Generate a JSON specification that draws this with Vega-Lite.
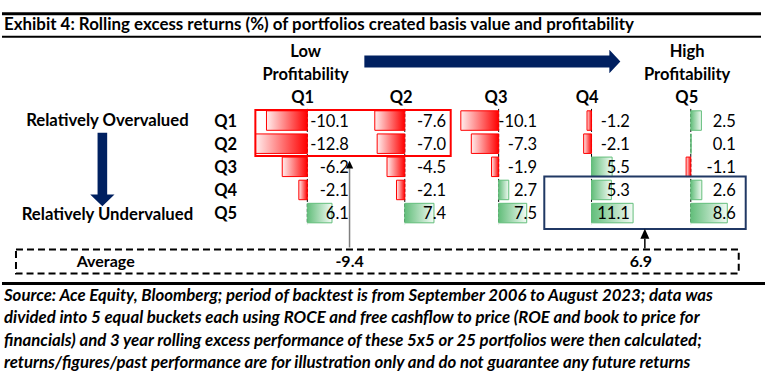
{
  "$schema": "https://vega.github.io/schema/vega-lite/v6.json",
  "width": 767,
  "height": 381,
  "autosize": {"type": "fit", "contains": "padding"},
  "padding": 0,
  "background": "white",
  "config": {
    "view": {"stroke": null},
    "font": "Lato",
    "text": {"font": "Lato", "color": "black"},
    "locale": {"number": {"decimal": ".", "thousands": ",", "grouping": [3], "currency": ["$", ""], "minus": "-"}}
  },
  "data": {
    "values": [
      {"value_quintile": "Q1", "value_rank": 1, "profitability_quintile": "Q1", "excess_return": -10.1},
      {"value_quintile": "Q1", "value_rank": 1, "profitability_quintile": "Q2", "excess_return": -7.6},
      {"value_quintile": "Q1", "value_rank": 1, "profitability_quintile": "Q3", "excess_return": -10.1},
      {"value_quintile": "Q1", "value_rank": 1, "profitability_quintile": "Q4", "excess_return": -1.2},
      {"value_quintile": "Q1", "value_rank": 1, "profitability_quintile": "Q5", "excess_return": 2.5},
      {"value_quintile": "Q2", "value_rank": 2, "profitability_quintile": "Q1", "excess_return": -12.8},
      {"value_quintile": "Q2", "value_rank": 2, "profitability_quintile": "Q2", "excess_return": -7.0},
      {"value_quintile": "Q2", "value_rank": 2, "profitability_quintile": "Q3", "excess_return": -7.3},
      {"value_quintile": "Q2", "value_rank": 2, "profitability_quintile": "Q4", "excess_return": -2.1},
      {"value_quintile": "Q2", "value_rank": 2, "profitability_quintile": "Q5", "excess_return": 0.1},
      {"value_quintile": "Q3", "value_rank": 3, "profitability_quintile": "Q1", "excess_return": -6.2},
      {"value_quintile": "Q3", "value_rank": 3, "profitability_quintile": "Q2", "excess_return": -4.5},
      {"value_quintile": "Q3", "value_rank": 3, "profitability_quintile": "Q3", "excess_return": -1.9},
      {"value_quintile": "Q3", "value_rank": 3, "profitability_quintile": "Q4", "excess_return": 5.5},
      {"value_quintile": "Q3", "value_rank": 3, "profitability_quintile": "Q5", "excess_return": -1.1},
      {"value_quintile": "Q4", "value_rank": 4, "profitability_quintile": "Q1", "excess_return": -2.1},
      {"value_quintile": "Q4", "value_rank": 4, "profitability_quintile": "Q2", "excess_return": -2.1},
      {"value_quintile": "Q4", "value_rank": 4, "profitability_quintile": "Q3", "excess_return": 2.7},
      {"value_quintile": "Q4", "value_rank": 4, "profitability_quintile": "Q4", "excess_return": 5.3},
      {"value_quintile": "Q4", "value_rank": 4, "profitability_quintile": "Q5", "excess_return": 2.6},
      {"value_quintile": "Q5", "value_rank": 5, "profitability_quintile": "Q1", "excess_return": 6.1},
      {"value_quintile": "Q5", "value_rank": 5, "profitability_quintile": "Q2", "excess_return": 7.4},
      {"value_quintile": "Q5", "value_rank": 5, "profitability_quintile": "Q3", "excess_return": 7.5},
      {"value_quintile": "Q5", "value_rank": 5, "profitability_quintile": "Q4", "excess_return": 11.1},
      {"value_quintile": "Q5", "value_rank": 5, "profitability_quintile": "Q5", "excess_return": 8.6}
    ]
  },
  "resolve": {"scale": {"x": "independent"}},
  "layer": [
    {
      "transform": [{"filter": "datum.profitability_quintile == 'Q1'"}],
      "layer": [
        {"transform": [{"filter": "datum.value_rank == 1"}],
         "mark": {"type": "rule", "color": "black", "strokeWidth": 1, "strokeDash": [3, 2]},
         "encoding": {"x": {"datum": 0, "type": "quantitative", "scale": {"domain": [-75.98, 113.40], "nice": false, "zero": false}, "axis": null},
                      "y": {"datum": 0.44, "type": "quantitative", "scale": {"domain": [-4.053, 11.989], "reverse": true, "nice": false, "zero": false}, "axis": null},
                      "y2": {"datum": 5.42}}},
        {"transform": [{"filter": "datum.excess_return < 0"}],
         "mark": {"type": "bar", "orient": "horizontal", "height": 19.5, "yOffset": -1.3, "stroke": "#FF0000", "strokeWidth": 1,
                  "fill": {"gradient": "linear", "x1": 0, "y1": 0, "x2": 1, "y2": 0, "stops": [{"offset": 0, "color": "#FFEEEE"}, {"offset": 1, "color": "#FF0000"}]}},
         "encoding": {"x": {"field": "excess_return", "type": "quantitative", "scale": {"domain": [-75.98, 113.40], "nice": false, "zero": false}, "axis": null},
                      "x2": {"datum": 0},
                      "y": {"field": "value_rank", "type": "quantitative", "scale": {"domain": [-4.053, 11.989], "reverse": true, "nice": false, "zero": false}, "axis": null}}},
        {"transform": [{"filter": "datum.excess_return >= 0"}],
         "mark": {"type": "bar", "orient": "horizontal", "height": 19.5, "yOffset": -1.3, "stroke": "#63BE7B", "strokeWidth": 1,
                  "fill": {"gradient": "linear", "x1": 0, "y1": 0, "x2": 1, "y2": 0, "stops": [{"offset": 0, "color": "#63BE7B"}, {"offset": 1, "color": "#F2FAF4"}]}},
         "encoding": {"x": {"field": "excess_return", "type": "quantitative", "scale": {"domain": [-75.98, 113.40], "nice": false, "zero": false}, "axis": null},
                      "x2": {"datum": 0},
                      "y": {"field": "value_rank", "type": "quantitative", "scale": {"domain": [-4.053, 11.989], "reverse": true, "nice": false, "zero": false}, "axis": null}}},
        {"mark": {"type": "text", "align": "right", "baseline": "middle", "fontSize": 16.5},
         "encoding": {"x": {"datum": 10.27, "type": "quantitative", "scale": {"domain": [-75.98, 113.40], "nice": false, "zero": false}, "axis": null},
                      "y": {"field": "value_rank", "type": "quantitative", "scale": {"domain": [-4.053, 11.989], "reverse": true, "nice": false, "zero": false}, "axis": null},
                      "text": {"field": "excess_return", "type": "quantitative", "format": ".1f"}}},
        {"transform": [{"filter": "datum.value_rank == 1"}],
         "mark": {"type": "text", "align": "center", "baseline": "middle", "fontSize": 16.5, "fontWeight": "bold"},
         "encoding": {"x": {"datum": -1.16, "type": "quantitative", "scale": {"domain": [-75.98, 113.40], "nice": false, "zero": false}, "axis": null},
                      "y": {"datum": -0.0232, "type": "quantitative", "scale": {"domain": [-4.053, 11.989], "reverse": true, "nice": false, "zero": false}, "axis": null},
                      "text": {"field": "profitability_quintile"}}}
      ]
    },
    {
      "transform": [{"filter": "datum.profitability_quintile == 'Q2'"}],
      "layer": [
        {"transform": [{"filter": "datum.value_rank == 1"}],
         "mark": {"type": "rule", "color": "black", "strokeWidth": 1, "strokeDash": [3, 2]},
         "encoding": {"x": {"datum": 0, "type": "quantitative", "scale": {"domain": [-102.61, 91.57], "nice": false, "zero": false}, "axis": null},
                      "y": {"datum": 0.44, "type": "quantitative", "scale": {"domain": [-4.053, 11.989], "reverse": true, "nice": false, "zero": false}, "axis": null},
                      "y2": {"datum": 5.42}}},
        {"transform": [{"filter": "datum.excess_return < 0"}],
         "mark": {"type": "bar", "orient": "horizontal", "height": 19.5, "yOffset": -1.3, "stroke": "#FF0000", "strokeWidth": 1,
                  "fill": {"gradient": "linear", "x1": 0, "y1": 0, "x2": 1, "y2": 0, "stops": [{"offset": 0, "color": "#FFEEEE"}, {"offset": 1, "color": "#FF0000"}]}},
         "encoding": {"x": {"field": "excess_return", "type": "quantitative", "scale": {"domain": [-102.61, 91.57], "nice": false, "zero": false}, "axis": null},
                      "x2": {"datum": 0},
                      "y": {"field": "value_rank", "type": "quantitative", "scale": {"domain": [-4.053, 11.989], "reverse": true, "nice": false, "zero": false}, "axis": null}}},
        {"transform": [{"filter": "datum.excess_return >= 0"}],
         "mark": {"type": "bar", "orient": "horizontal", "height": 19.5, "yOffset": -1.3, "stroke": "#63BE7B", "strokeWidth": 1,
                  "fill": {"gradient": "linear", "x1": 0, "y1": 0, "x2": 1, "y2": 0, "stops": [{"offset": 0, "color": "#63BE7B"}, {"offset": 1, "color": "#F2FAF4"}]}},
         "encoding": {"x": {"field": "excess_return", "type": "quantitative", "scale": {"domain": [-102.61, 91.57], "nice": false, "zero": false}, "axis": null},
                      "x2": {"datum": 0},
                      "y": {"field": "value_rank", "type": "quantitative", "scale": {"domain": [-4.053, 11.989], "reverse": true, "nice": false, "zero": false}, "axis": null}}},
        {"mark": {"type": "text", "align": "right", "baseline": "middle", "fontSize": 16.5},
         "encoding": {"x": {"datum": 10.48, "type": "quantitative", "scale": {"domain": [-102.61, 91.57], "nice": false, "zero": false}, "axis": null},
                      "y": {"field": "value_rank", "type": "quantitative", "scale": {"domain": [-4.053, 11.989], "reverse": true, "nice": false, "zero": false}, "axis": null},
                      "text": {"field": "excess_return", "type": "quantitative", "format": ".1f"}}},
        {"transform": [{"filter": "datum.value_rank == 1"}],
         "mark": {"type": "text", "align": "center", "baseline": "middle", "fontSize": 16.5, "fontWeight": "bold"},
         "encoding": {"x": {"datum": -0.91, "type": "quantitative", "scale": {"domain": [-102.61, 91.57], "nice": false, "zero": false}, "axis": null},
                      "y": {"datum": -0.0232, "type": "quantitative", "scale": {"domain": [-4.053, 11.989], "reverse": true, "nice": false, "zero": false}, "axis": null},
                      "text": {"field": "profitability_quintile"}}}
      ]
    },
    {
      "transform": [{"filter": "datum.profitability_quintile == 'Q3'"}],
      "layer": [
        {"transform": [{"filter": "datum.value_rank == 1"}],
         "mark": {"type": "rule", "color": "black", "strokeWidth": 1, "strokeDash": [3, 2]},
         "encoding": {"x": {"datum": 0, "type": "quantitative", "scale": {"domain": [-133.15, 71.39], "nice": false, "zero": false}, "axis": null},
                      "y": {"datum": 0.44, "type": "quantitative", "scale": {"domain": [-4.053, 11.989], "reverse": true, "nice": false, "zero": false}, "axis": null},
                      "y2": {"datum": 5.42}}},
        {"transform": [{"filter": "datum.excess_return < 0"}],
         "mark": {"type": "bar", "orient": "horizontal", "height": 19.5, "yOffset": -1.3, "stroke": "#FF0000", "strokeWidth": 1,
                  "fill": {"gradient": "linear", "x1": 0, "y1": 0, "x2": 1, "y2": 0, "stops": [{"offset": 0, "color": "#FFEEEE"}, {"offset": 1, "color": "#FF0000"}]}},
         "encoding": {"x": {"field": "excess_return", "type": "quantitative", "scale": {"domain": [-133.15, 71.39], "nice": false, "zero": false}, "axis": null},
                      "x2": {"datum": 0},
                      "y": {"field": "value_rank", "type": "quantitative", "scale": {"domain": [-4.053, 11.989], "reverse": true, "nice": false, "zero": false}, "axis": null}}},
        {"transform": [{"filter": "datum.excess_return >= 0"}],
         "mark": {"type": "bar", "orient": "horizontal", "height": 19.5, "yOffset": -1.3, "stroke": "#63BE7B", "strokeWidth": 1,
                  "fill": {"gradient": "linear", "x1": 0, "y1": 0, "x2": 1, "y2": 0, "stops": [{"offset": 0, "color": "#63BE7B"}, {"offset": 1, "color": "#F2FAF4"}]}},
         "encoding": {"x": {"field": "excess_return", "type": "quantitative", "scale": {"domain": [-133.15, 71.39], "nice": false, "zero": false}, "axis": null},
                      "x2": {"datum": 0},
                      "y": {"field": "value_rank", "type": "quantitative", "scale": {"domain": [-4.053, 11.989], "reverse": true, "nice": false, "zero": false}, "axis": null}}},
        {"mark": {"type": "text", "align": "right", "baseline": "middle", "fontSize": 16.5},
         "encoding": {"x": {"datum": 10.24, "type": "quantitative", "scale": {"domain": [-133.15, 71.39], "nice": false, "zero": false}, "axis": null},
                      "y": {"field": "value_rank", "type": "quantitative", "scale": {"domain": [-4.053, 11.989], "reverse": true, "nice": false, "zero": false}, "axis": null},
                      "text": {"field": "excess_return", "type": "quantitative", "format": ".1f"}}},
        {"transform": [{"filter": "datum.value_rank == 1"}],
         "mark": {"type": "text", "align": "center", "baseline": "middle", "fontSize": 16.5, "fontWeight": "bold"},
         "encoding": {"x": {"datum": -0.69, "type": "quantitative", "scale": {"domain": [-133.15, 71.39], "nice": false, "zero": false}, "axis": null},
                      "y": {"datum": -0.0232, "type": "quantitative", "scale": {"domain": [-4.053, 11.989], "reverse": true, "nice": false, "zero": false}, "axis": null},
                      "text": {"field": "profitability_quintile"}}}
      ]
    },
    {
      "transform": [{"filter": "datum.profitability_quintile == 'Q4'"}],
      "layer": [
        {"transform": [{"filter": "datum.value_rank == 1"}],
         "mark": {"type": "rule", "color": "black", "strokeWidth": 1, "strokeDash": [3, 2]},
         "encoding": {"x": {"datum": 0, "type": "quantitative", "scale": {"domain": [-157.95, 46.59], "nice": false, "zero": false}, "axis": null},
                      "y": {"datum": 0.44, "type": "quantitative", "scale": {"domain": [-4.053, 11.989], "reverse": true, "nice": false, "zero": false}, "axis": null},
                      "y2": {"datum": 5.42}}},
        {"transform": [{"filter": "datum.excess_return < 0"}],
         "mark": {"type": "bar", "orient": "horizontal", "height": 19.5, "yOffset": -1.3, "stroke": "#FF0000", "strokeWidth": 1,
                  "fill": {"gradient": "linear", "x1": 0, "y1": 0, "x2": 1, "y2": 0, "stops": [{"offset": 0, "color": "#FFEEEE"}, {"offset": 1, "color": "#FF0000"}]}},
         "encoding": {"x": {"field": "excess_return", "type": "quantitative", "scale": {"domain": [-157.95, 46.59], "nice": false, "zero": false}, "axis": null},
                      "x2": {"datum": 0},
                      "y": {"field": "value_rank", "type": "quantitative", "scale": {"domain": [-4.053, 11.989], "reverse": true, "nice": false, "zero": false}, "axis": null}}},
        {"transform": [{"filter": "datum.excess_return >= 0"}],
         "mark": {"type": "bar", "orient": "horizontal", "height": 19.5, "yOffset": -1.3, "stroke": "#63BE7B", "strokeWidth": 1,
                  "fill": {"gradient": "linear", "x1": 0, "y1": 0, "x2": 1, "y2": 0, "stops": [{"offset": 0, "color": "#63BE7B"}, {"offset": 1, "color": "#F2FAF4"}]}},
         "encoding": {"x": {"field": "excess_return", "type": "quantitative", "scale": {"domain": [-157.95, 46.59], "nice": false, "zero": false}, "axis": null},
                      "x2": {"datum": 0},
                      "y": {"field": "value_rank", "type": "quantitative", "scale": {"domain": [-4.053, 11.989], "reverse": true, "nice": false, "zero": false}, "axis": null}}},
        {"mark": {"type": "text", "align": "right", "baseline": "middle", "fontSize": 16.5},
         "encoding": {"x": {"datum": 10.24, "type": "quantitative", "scale": {"domain": [-157.95, 46.59], "nice": false, "zero": false}, "axis": null},
                      "y": {"field": "value_rank", "type": "quantitative", "scale": {"domain": [-4.053, 11.989], "reverse": true, "nice": false, "zero": false}, "axis": null},
                      "text": {"field": "excess_return", "type": "quantitative", "format": ".1f"}}},
        {"transform": [{"filter": "datum.value_rank == 1"}],
         "mark": {"type": "text", "align": "center", "baseline": "middle", "fontSize": 16.5, "fontWeight": "bold"},
         "encoding": {"x": {"datum": -1.15, "type": "quantitative", "scale": {"domain": [-157.95, 46.59], "nice": false, "zero": false}, "axis": null},
                      "y": {"datum": -0.0232, "type": "quantitative", "scale": {"domain": [-4.053, 11.989], "reverse": true, "nice": false, "zero": false}, "axis": null},
                      "text": {"field": "profitability_quintile"}}}
      ]
    },
    {
      "transform": [{"filter": "datum.profitability_quintile == 'Q5'"}],
      "layer": [
        {"transform": [{"filter": "datum.value_rank == 1"}],
         "mark": {"type": "rule", "color": "black", "strokeWidth": 1, "strokeDash": [3, 2]},
         "encoding": {"x": {"datum": 0, "type": "quantitative", "scale": {"domain": [-162.75, 17.72], "nice": false, "zero": false}, "axis": null},
                      "y": {"datum": 0.44, "type": "quantitative", "scale": {"domain": [-4.053, 11.989], "reverse": true, "nice": false, "zero": false}, "axis": null},
                      "y2": {"datum": 5.42}}},
        {"transform": [{"filter": "datum.excess_return < 0"}],
         "mark": {"type": "bar", "orient": "horizontal", "height": 19.5, "yOffset": -1.3, "stroke": "#FF0000", "strokeWidth": 1,
                  "fill": {"gradient": "linear", "x1": 0, "y1": 0, "x2": 1, "y2": 0, "stops": [{"offset": 0, "color": "#FFEEEE"}, {"offset": 1, "color": "#FF0000"}]}},
         "encoding": {"x": {"field": "excess_return", "type": "quantitative", "scale": {"domain": [-162.75, 17.72], "nice": false, "zero": false}, "axis": null},
                      "x2": {"datum": 0},
                      "y": {"field": "value_rank", "type": "quantitative", "scale": {"domain": [-4.053, 11.989], "reverse": true, "nice": false, "zero": false}, "axis": null}}},
        {"transform": [{"filter": "datum.excess_return >= 0"}],
         "mark": {"type": "bar", "orient": "horizontal", "height": 19.5, "yOffset": -1.3, "stroke": "#63BE7B", "strokeWidth": 1,
                  "fill": {"gradient": "linear", "x1": 0, "y1": 0, "x2": 1, "y2": 0, "stops": [{"offset": 0, "color": "#63BE7B"}, {"offset": 1, "color": "#F2FAF4"}]}},
         "encoding": {"x": {"field": "excess_return", "type": "quantitative", "scale": {"domain": [-162.75, 17.72], "nice": false, "zero": false}, "axis": null},
                      "x2": {"datum": 0},
                      "y": {"field": "value_rank", "type": "quantitative", "scale": {"domain": [-4.053, 11.989], "reverse": true, "nice": false, "zero": false}, "axis": null}}},
        {"mark": {"type": "text", "align": "right", "baseline": "middle", "fontSize": 16.5},
         "encoding": {"x": {"datum": 10.59, "type": "quantitative", "scale": {"domain": [-162.75, 17.72], "nice": false, "zero": false}, "axis": null},
                      "y": {"field": "value_rank", "type": "quantitative", "scale": {"domain": [-4.053, 11.989], "reverse": true, "nice": false, "zero": false}, "axis": null},
                      "text": {"field": "excess_return", "type": "quantitative", "format": ".1f"}}},
        {"transform": [{"filter": "datum.value_rank == 1"}],
         "mark": {"type": "text", "align": "center", "baseline": "middle", "fontSize": 16.5, "fontWeight": "bold"},
         "encoding": {"x": {"datum": -0.94, "type": "quantitative", "scale": {"domain": [-162.75, 17.72], "nice": false, "zero": false}, "axis": null},
                      "y": {"datum": -0.0232, "type": "quantitative", "scale": {"domain": [-4.053, 11.989], "reverse": true, "nice": false, "zero": false}, "axis": null},
                      "text": {"field": "profitability_quintile"}}}
      ]
    },
    {
      "layer": [
        {"transform": [{"filter": "datum.profitability_quintile == 'Q1'"}],
         "mark": {"type": "text", "align": "center", "baseline": "middle", "fontSize": 16.5, "fontWeight": "bold"},
         "encoding": {"x": {"datum": 0.149, "type": "quantitative", "scale": {"domain": [-2.2052, 5.7844], "nice": false, "zero": false}, "axis": null},
                      "y": {"field": "value_rank", "type": "quantitative", "scale": {"domain": [-4.053, 11.989], "reverse": true, "nice": false, "zero": false}, "axis": null},
                      "text": {"field": "value_quintile"}}},
        {"transform": [{"filter": "datum.value_rank <= 2 && (datum.profitability_quintile == 'Q1' || datum.profitability_quintile == 'Q2')"},
                       {"aggregate": [{"op": "mean", "field": "excess_return", "as": "box_average"}]}],
         "mark": {"type": "text", "align": "center", "baseline": "middle", "fontSize": 16, "fontWeight": "bold"},
         "encoding": {"x": {"datum": 1.4406, "type": "quantitative", "scale": {"domain": [-2.2052, 5.7844], "nice": false, "zero": false}, "axis": null},
                      "y": {"datum": 7.0758, "type": "quantitative", "scale": {"domain": [-4.053, 11.989], "reverse": true, "nice": false, "zero": false}, "axis": null},
                      "text": {"field": "box_average", "type": "quantitative", "format": ".1f"}}},
        {"transform": [{"filter": "datum.value_rank >= 4 && (datum.profitability_quintile == 'Q4' || datum.profitability_quintile == 'Q5')"},
                       {"aggregate": [{"op": "mean", "field": "excess_return", "as": "box_average"}]}],
         "mark": {"type": "text", "align": "center", "baseline": "middle", "fontSize": 16, "fontWeight": "bold"},
         "encoding": {"x": {"datum": 4.4792, "type": "quantitative", "scale": {"domain": [-2.2052, 5.7844], "nice": false, "zero": false}, "axis": null},
                      "y": {"datum": 7.0758, "type": "quantitative", "scale": {"domain": [-4.053, 11.989], "reverse": true, "nice": false, "zero": false}, "axis": null},
                      "text": {"field": "box_average", "type": "quantitative", "format": ".1f"}}}
      ]
    },
    {
      "data": {"values": [{}]},
      "layer": [
        {"mark": {"type": "rule", "color": "black", "strokeWidth": 3},
         "encoding": {"x": {"datum": -2.1844, "type": "quantitative", "scale": {"domain": [-2.2052, 5.7844], "nice": false, "zero": false}, "axis": null},
                      "x2": {"datum": 5.7323},
                      "y": {"datum": -3.6737, "type": "quantitative", "scale": {"domain": [-4.053, 11.989], "reverse": true, "nice": false, "zero": false}, "axis": null}}},
        {"mark": {"type": "rule", "color": "black", "strokeWidth": 2},
         "encoding": {"x": {"datum": -2.1844, "type": "quantitative", "scale": {"domain": [-2.2052, 5.7844], "nice": false, "zero": false}, "axis": null},
                      "x2": {"datum": 5.7323},
                      "y": {"datum": -2.6842, "type": "quantitative", "scale": {"domain": [-4.053, 11.989], "reverse": true, "nice": false, "zero": false}, "axis": null}}},
        {"mark": {"type": "rule", "color": "black", "strokeWidth": 3},
         "encoding": {"x": {"datum": -2.1844, "type": "quantitative", "scale": {"domain": [-2.2052, 5.7844], "nice": false, "zero": false}, "axis": null},
                      "x2": {"datum": 5.774},
                      "y": {"datum": 7.9895, "type": "quantitative", "scale": {"domain": [-4.053, 11.989], "reverse": true, "nice": false, "zero": false}, "axis": null}}},
        {"mark": {"type": "text", "text": "Exhibit 4: Rolling excess returns (%) of portfolios created basis value and profitability", "align": "left", "baseline": "middle", "fontSize": 16.9, "fontWeight": "bold"},
         "encoding": {"x": {"datum": -2.1635, "type": "quantitative", "scale": {"domain": [-2.2052, 5.7844], "nice": false, "zero": false}, "axis": null},
                      "y": {"datum": -3.1684, "type": "quantitative", "scale": {"domain": [-4.053, 11.989], "reverse": true, "nice": false, "zero": false}, "axis": null}}},
        {"mark": {"type": "text", "text": ["Low", "Profitability"], "lineHeight": 23.4, "align": "center", "baseline": "middle", "fontSize": 16.5, "fontWeight": "bold"},
         "encoding": {"x": {"datum": 0.9823, "type": "quantitative", "scale": {"domain": [-2.2052, 5.7844], "nice": false, "zero": false}, "axis": null},
                      "y": {"datum": -2.0232, "type": "quantitative", "scale": {"domain": [-4.053, 11.989], "reverse": true, "nice": false, "zero": false}, "axis": null}}},
        {"mark": {"type": "text", "text": ["High", "Profitability"], "lineHeight": 23.4, "align": "center", "baseline": "middle", "fontSize": 16.5, "fontWeight": "bold"},
         "encoding": {"x": {"datum": 4.9615, "type": "quantitative", "scale": {"domain": [-2.2052, 5.7844], "nice": false, "zero": false}, "axis": null},
                      "y": {"datum": -2.0232, "type": "quantitative", "scale": {"domain": [-4.053, 11.989], "reverse": true, "nice": false, "zero": false}, "axis": null}}},
        {"mark": {"type": "point", "filled": true, "opacity": 1, "color": "#002060", "strokeWidth": 0, "size": 65536,
                  "shape": "M-1,-0.047L0.914,-0.047L0.914,-0.091L1,0L0.914,0.091L0.914,0.047L-1,0.047Z"},
         "encoding": {"x": {"datum": 2.9302, "type": "quantitative", "scale": {"domain": [-2.2052, 5.7844], "nice": false, "zero": false}, "axis": null},
                      "y": {"datum": -1.6105, "type": "quantitative", "scale": {"domain": [-4.053, 11.989], "reverse": true, "nice": false, "zero": false}, "axis": null}}},
        {"mark": {"type": "point", "filled": true, "opacity": 1, "color": "#002060", "strokeWidth": 0, "size": 5387.56,
                  "shape": "M-0.131,-1L0.131,-1L0.131,0.681L0.331,0.681L0,1L-0.331,0.681L-0.131,0.681Z"},
         "encoding": {"x": {"datum": -1.1375, "type": "quantitative", "scale": {"domain": [-2.2052, 5.7844], "nice": false, "zero": false}, "axis": null},
                      "y": {"datum": 3.0632, "type": "quantitative", "scale": {"domain": [-4.053, 11.989], "reverse": true, "nice": false, "zero": false}, "axis": null}}},
        {"mark": {"type": "text", "text": "Relatively Overvalued", "align": "center", "baseline": "middle", "fontSize": 16.7, "fontWeight": "bold"},
         "encoding": {"x": {"datum": -1.085, "type": "quantitative", "scale": {"domain": [-2.2052, 5.7844], "nice": false, "zero": false}, "axis": null},
                      "y": {"datum": 0.9705, "type": "quantitative", "scale": {"domain": [-4.053, 11.989], "reverse": true, "nice": false, "zero": false}, "axis": null}}},
        {"mark": {"type": "text", "text": "Relatively Undervalued", "align": "center", "baseline": "middle", "fontSize": 16.7, "fontWeight": "bold"},
         "encoding": {"x": {"datum": -1.085, "type": "quantitative", "scale": {"domain": [-2.2052, 5.7844], "nice": false, "zero": false}, "axis": null},
                      "y": {"datum": 5.0421, "type": "quantitative", "scale": {"domain": [-4.053, 11.989], "reverse": true, "nice": false, "zero": false}, "axis": null}}},
        {"mark": {"type": "rect", "fill": null, "fillOpacity": 0, "stroke": "#FF0000", "strokeWidth": 2},
         "encoding": {"x": {"datum": 0.4583, "type": "quantitative", "scale": {"domain": [-2.2052, 5.7844], "nice": false, "zero": false}, "axis": null},
                      "x2": {"datum": 2.4958},
                      "y": {"datum": 0.4821, "type": "quantitative", "scale": {"domain": [-4.053, 11.989], "reverse": true, "nice": false, "zero": false}, "axis": null},
                      "y2": {"datum": 2.4737}}},
        {"mark": {"type": "rect", "fill": null, "fillOpacity": 0, "stroke": "#203864", "strokeWidth": 2},
         "encoding": {"x": {"datum": 3.4719, "type": "quantitative", "scale": {"domain": [-2.2052, 5.7844], "nice": false, "zero": false}, "axis": null},
                      "x2": {"datum": 5.5729},
                      "y": {"datum": 3.3579, "type": "quantitative", "scale": {"domain": [-4.053, 11.989], "reverse": true, "nice": false, "zero": false}, "axis": null},
                      "y2": {"datum": 5.6316}}},
        {"mark": {"type": "rect", "fill": null, "fillOpacity": 0, "stroke": "black", "strokeWidth": 2, "strokeDash": [7, 4]},
         "encoding": {"x": {"datum": -2.0385, "type": "quantitative", "scale": {"domain": [-2.2052, 5.7844], "nice": false, "zero": false}, "axis": null},
                      "x2": {"datum": 5.5},
                      "y": {"datum": 6.5158, "type": "quantitative", "scale": {"domain": [-4.053, 11.989], "reverse": true, "nice": false, "zero": false}, "axis": null},
                      "y2": {"datum": 7.5558}}},
        {"mark": {"type": "rule", "color": "#7F7F7F", "strokeWidth": 1.5},
         "encoding": {"x": {"datum": 1.4406, "type": "quantitative", "scale": {"domain": [-2.2052, 5.7844], "nice": false, "zero": false}, "axis": null},
                      "y": {"datum": 3.0084, "type": "quantitative", "scale": {"domain": [-4.053, 11.989], "reverse": true, "nice": false, "zero": false}, "axis": null},
                      "y2": {"datum": 6.4316}}},
        {"mark": {"type": "point", "filled": true, "opacity": 1, "color": "black", "strokeWidth": 0, "size": 64,
                  "shape": "M0,-0.96L0.91,0.96L-0.91,0.96Z"},
         "encoding": {"x": {"datum": 1.4406, "type": "quantitative", "scale": {"domain": [-2.2052, 5.7844], "nice": false, "zero": false}, "axis": null},
                      "y": {"datum": 2.8463, "type": "quantitative", "scale": {"domain": [-4.053, 11.989], "reverse": true, "nice": false, "zero": false}, "axis": null}}},
        {"mark": {"type": "rule", "color": "black", "strokeWidth": 1.5},
         "encoding": {"x": {"datum": 4.5208, "type": "quantitative", "scale": {"domain": [-2.2052, 5.7844], "nice": false, "zero": false}, "axis": null},
                      "y": {"datum": 6.0526, "type": "quantitative", "scale": {"domain": [-4.053, 11.989], "reverse": true, "nice": false, "zero": false}, "axis": null},
                      "y2": {"datum": 6.4737}}},
        {"mark": {"type": "point", "filled": true, "opacity": 1, "color": "black", "strokeWidth": 0, "size": 100,
                  "shape": "M0,-1L0.9,1L-0.9,1Z"},
         "encoding": {"x": {"datum": 4.5208, "type": "quantitative", "scale": {"domain": [-2.2052, 5.7844], "nice": false, "zero": false}, "axis": null},
                      "y": {"datum": 5.8421, "type": "quantitative", "scale": {"domain": [-4.053, 11.989], "reverse": true, "nice": false, "zero": false}, "axis": null}}},
        {"mark": {"type": "text", "text": "Average", "align": "center", "baseline": "middle", "fontSize": 16, "fontWeight": "bold"},
         "encoding": {"x": {"datum": -1.1031, "type": "quantitative", "scale": {"domain": [-2.2052, 5.7844], "nice": false, "zero": false}, "axis": null},
                      "y": {"datum": 7.0758, "type": "quantitative", "scale": {"domain": [-4.053, 11.989], "reverse": true, "nice": false, "zero": false}, "axis": null}}},
        {"mark": {"type": "text", "text": [
                    "Source: Ace Equity, Bloomberg; period of backtest is from September 2006 to August 2023; data was",
                    "divided into 5 equal buckets each using ROCE and free cashflow to price (ROE and book to price for",
                    "financials) and 3 year rolling excess performance of these 5x5 or 25 portfolios were then calculated;",
                    "returns/figures/past performance are for illustration only and do not guarantee any future returns"],
                  "lineHeight": 22.2, "align": "left", "baseline": "middle", "fontSize": 16.8, "fontWeight": "bold", "fontStyle": "italic"},
         "encoding": {"x": {"datum": -2.1635, "type": "quantitative", "scale": {"domain": [-2.2052, 5.7844], "nice": false, "zero": false}, "axis": null},
                      "y": {"datum": 8.5368, "type": "quantitative", "scale": {"domain": [-4.053, 11.989], "reverse": true, "nice": false, "zero": false}, "axis": null}}}
      ]
    }
  ]
}
